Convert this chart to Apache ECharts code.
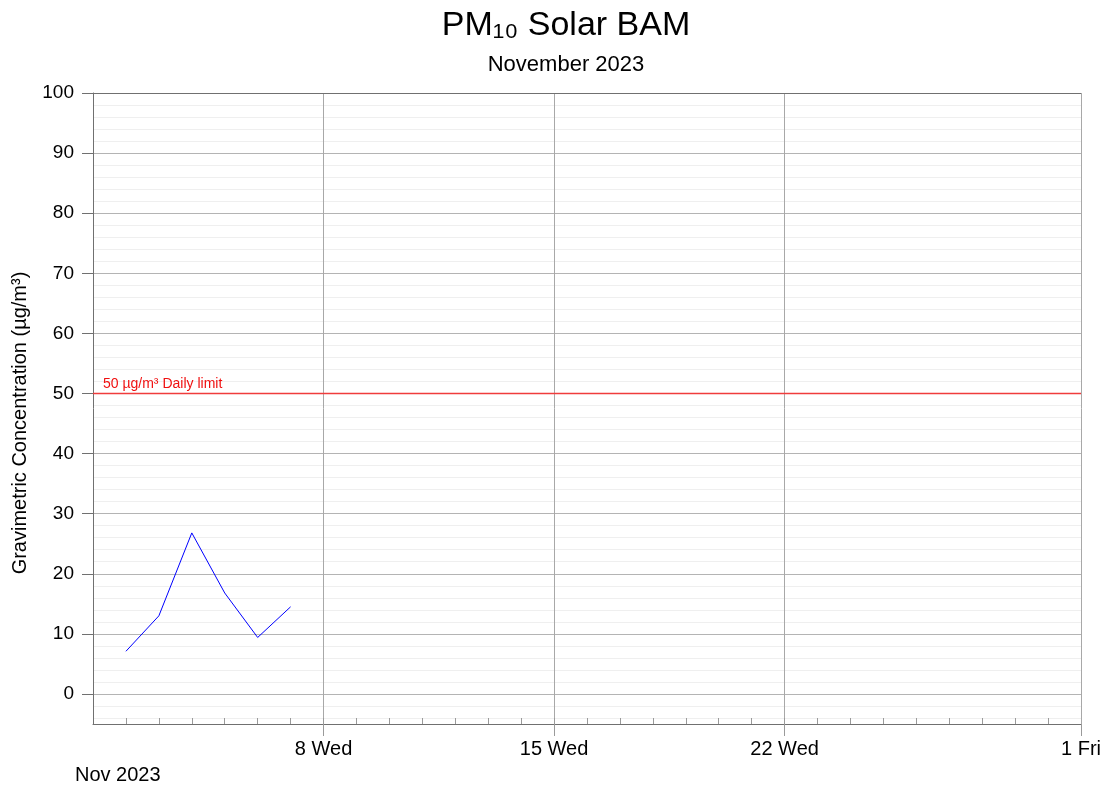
<!DOCTYPE html>
<html>
<head>
<meta charset="utf-8">
<script src="https://cdn.jsdelivr.net/npm/echarts@6/dist/echarts.min.js"></script>
<style>
html,body{margin:0;padding:0;background:#fff;}
#chart{width:1107px;height:786px;}
</style>
</head>
<body>
<div id="chart"></div>
<script>
// ---- data ----
var titleText = 'PM\u2081\u2080 Solar BAM';
var subtitleText = 'November 2023';
var yAxisName = 'Gravimetric Concentration (\u00b5g/m\u00b3)';
var monthLabel = 'Nov 2023';
var sampleDates = ['2023-11-02', '2023-11-03', '2023-11-04', '2023-11-05', '2023-11-06', '2023-11-07'];
var pm10Values = [7.1, 13.0, 26.8, 16.8, 9.4, 14.5];
var limitValue = 50;
var limitLabel = '50 \u00b5g/m\u00b3 Daily limit';
var xStart = '2023-11-01';
var xEnd = '2023-12-01';
var majorTickDates = ['2023-11-08', '2023-11-15', '2023-11-22', '2023-12-01'];
var majorTickLabels = ['8 Wed', '15 Wed', '22 Wed', '1 Fri'];
var yMin = -5, yMax = 100;
var yMajorTicks = [0, 10, 20, 30, 40, 50, 60, 70, 80, 90, 100];
var yMinorTicks = [-4, -2, 2, 4, 6, 8, 12, 14, 16, 18, 22, 24, 26, 28, 32, 34, 36, 38, 42, 44, 46, 48,
  52, 54, 56, 58, 62, 64, 66, 68, 72, 74, 76, 78, 82, 84, 86, 88, 92, 94, 96, 98];

function toMs(s) { var p = s.split('-'); return Date.UTC(+p[0], +p[1] - 1, +p[2]); }
var DAY = 86400000;
var startMs = toMs(xStart), endMs = toMs(xEnd);
var dailyTicks = [];
for (var t = startMs + DAY; t < endMs; t += DAY) dailyTicks.push(t);
var majorMs = majorTickDates.map(toMs);

var FONT = '"Liberation Sans", Arial, sans-serif';
var chart = echarts.init(document.getElementById('chart'));
var grid = { left: 93, right: 26, top: 93, bottom: 62, containLabel: false };

var option = {
  animation: false,
  backgroundColor: '#ffffff',
  textStyle: { fontFamily: FONT },
  grid: grid,
  graphic: [
    { type: 'text', x: 566, y: 26, style: { text: titleText, font: '34px ' + FONT, fill: '#000', align: 'center', verticalAlign: 'middle' } },
    { type: 'text', x: 566, y: 65, style: { text: subtitleText, font: '22px ' + FONT, fill: '#000', align: 'center', verticalAlign: 'middle' } },
    { type: 'text', x: 75, y: 775, style: { text: monthLabel, font: '20px ' + FONT, fill: '#000', align: 'left', verticalAlign: 'middle' } },
    { type: 'text', x: 20, y: 423, rotation: Math.PI / 2, style: { text: yAxisName, font: '20px ' + FONT, fill: '#000', align: 'center', verticalAlign: 'middle' } }
  ],
  xAxis: [
    {
      type: 'value', min: startMs, max: endMs, scale: true,
      axisLine: { show: true, onZero: false, lineStyle: { color: '#707070', width: 1 } },
      axisTick: { show: true, inside: true, length: 6, customValues: dailyTicks, lineStyle: { color: '#9a9a9a' } },
      axisLabel: { show: false, customValues: dailyTicks },
      splitLine: { show: false }
    },
    {
      type: 'value', min: startMs, max: endMs, scale: true, position: 'bottom',
      axisLine: { show: false, onZero: false },
      axisTick: { show: true, inside: false, length: 12, customValues: majorMs, lineStyle: { color: '#9a9a9a' } },
      axisLabel: {
        show: true, customValues: majorMs, margin: 15, color: '#000', fontSize: 20, fontFamily: FONT,
        formatter: function (v) { var i = majorMs.indexOf(v); return i >= 0 ? majorTickLabels[i] : ''; }
      },
      splitLine: { show: true, lineStyle: { color: '#a8a8a8', width: 1 } }
    }
  ],
  yAxis: [
    {
      type: 'value', min: yMin, max: yMax,
      axisLine: { show: true, onZero: false, lineStyle: { color: '#707070', width: 1 } },
      axisTick: { show: true, inside: false, length: 11, customValues: yMajorTicks, lineStyle: { color: '#707070' } },
      axisLabel: { show: true, customValues: yMajorTicks, margin: 19, color: '#000', fontSize: 19, fontFamily: FONT },
      splitLine: { show: true, lineStyle: { color: '#b4b4b4', width: 1 } }
    },
    {
      type: 'value', min: yMin, max: yMax, position: 'left',
      axisLine: { show: false, onZero: false },
      axisTick: { show: false, customValues: yMinorTicks },
      axisLabel: { show: false, customValues: yMinorTicks },
      splitLine: { show: true, lineStyle: { color: '#efefef', width: 1 } }
    }
  ],
  series: [
    {
      type: 'line', xAxisIndex: 0, yAxisIndex: 1, data: [], silent: true, z: 1,
      markLine: {
        silent: true, symbol: 'none', animation: false,
        lineStyle: { color: '#707070', type: 'solid', width: 1 },
        label: { show: false },
        data: [{ yAxis: yMax }]
      }
    },
    {
      name: 'limit', type: 'line', xAxisIndex: 0, yAxisIndex: 0,
      data: [[startMs, limitValue], [endMs, limitValue]],
      showSymbol: false, symbol: 'none', silent: true, z: 6,
      lineStyle: { color: '#f03c3c', width: 1.5 },
      endLabel: { show: false },
      markPoint: {
        symbol: 'rect', symbolSize: 0, silent: true,
        label: { show: true, position: 'right', formatter: limitLabel, color: '#f01010', fontSize: 14, fontFamily: FONT, offset: [5, -9] },
        data: [{ coord: [startMs, limitValue] }]
      }
    },
    {
      name: 'PM10', type: 'line', xAxisIndex: 0, yAxisIndex: 0,
      data: sampleDates.map(function (d, i) { return [toMs(d), pm10Values[i]]; }),
      showSymbol: false, symbol: 'none',
      lineStyle: { color: '#0000ff', width: 1 },
      itemStyle: { color: '#0000ff' },
      z: 5
    }
  ]
};
chart.setOption(option);
</script>
</body>
</html>
